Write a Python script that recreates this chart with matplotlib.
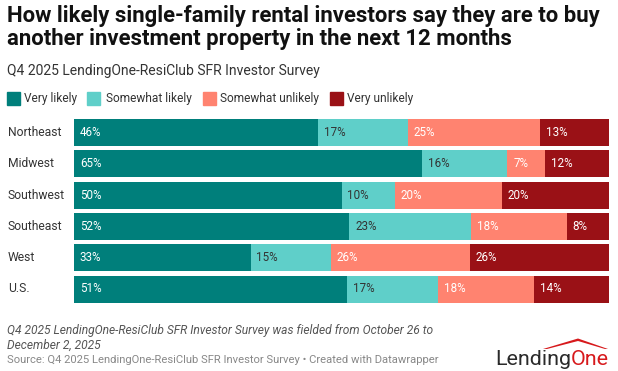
import matplotlib
matplotlib.use("Agg")
import matplotlib.pyplot as plt
from matplotlib.patches import Polygon
import numpy as np

# ---- data ----
regions = ["Northeast", "Midwest", "Southwest", "Southeast", "West", "U.S."]
series = ["Very likely", "Somewhat likely", "Somewhat unlikely", "Very unlikely"]
very_likely = [46, 65, 50, 52, 33, 51]
somewhat_likely = [17, 16, 10, 23, 15, 17]
somewhat_unlikely = [25, 7, 20, 18, 26, 18]
very_unlikely = [13, 12, 20, 8, 26, 14]

title_lines = ["How likely single-family rental investors say they are to buy",
               "another investment property in the next 12 months"]
subtitle = "Q4 2025 LendingOne-ResiClub SFR Investor Survey"
note_lines = ["Q4 2025 LendingOne-ResiClub SFR Investor Survey was fielded from October 26 to",
              "December 2, 2025"]
source = "Source: Q4 2025 LendingOne-ResiClub SFR Investor Survey \u2022 Created with Datawrapper"

colors = ["#007f7b", "#5fcfc9", "#ff8370", "#9a1116"]
label_colors = ["white", "#333333", "white", "white"]

W, H = 618, 371
plt.rcParams["font.family"] = ["Roboto", "DejaVu Sans"]
fig = plt.figure(figsize=(W / 100, H / 100), dpi=100)
renderer = fig.canvas.get_renderer()


def fx(x):
    return x / W


def fy(y):
    return 1 - y / H


def fit(t, target_w):
    w = t.get_window_extent(renderer).width
    t.set_fontsize(t.get_fontsize() * target_w / w)
    return t.get_fontsize()


# axes placement (pixels)
ax_left, ax_right = 74, 609
pitch = 31.3
c0 = 132.5
ax_top = c0 - 0.5 * pitch
ax_bot = c0 + 5.5 * pitch
ax = fig.add_axes([fx(ax_left), fy(ax_bot), (ax_right - ax_left) / W, (ax_bot - ax_top) / H])

data = np.array([very_likely, somewhat_likely, somewhat_unlikely, very_unlikely], dtype=float)
totals = data.sum(axis=0)
norm = data / totals * 100
y = np.arange(len(regions))
left = np.zeros(len(regions))
bar_h = 27 / pitch
for i, s in enumerate(series):
    ax.barh(y, norm[i], left=left, height=bar_h, color=colors[i], edgecolor="none")
    for j in range(len(regions)):
        ax.text(left[j] + 1.1, y[j], f"{int(data[i, j])}%", va="center", ha="left",
                color=label_colors[i], fontsize=8.4)
    left += norm[i]

ax.set_xlim(0, 100)
ax.set_ylim(len(regions) - 0.5, -0.5)
ax.axis("off")

cat_fs = None
for j, r in enumerate(regions):
    t = fig.text(fx(8), fy(c0 + j * pitch), r, ha="left", va="center", fontsize=9, color="#333333")
    if j == 0:
        cat_fs = fit(t, 54)
    else:
        t.set_fontsize(cat_fs)

# ---- title etc ----
t1 = fig.text(fx(7), fy(22), title_lines[0], fontsize=14.6, fontweight="bold",
              color="#111111", ha="left", va="baseline")
tfs = fit(t1, 590)
fig.text(fx(7), fy(45.5), title_lines[1], fontsize=tfs, fontweight="bold",
         color="#111111", ha="left", va="baseline")
st = fig.text(fx(7), fy(75), subtitle, fontsize=9.6, color="#333333", ha="left", va="baseline")
fit(st, 316)

# legend
sq_x = [7, 87, 203, 330]
txt_x = [24, 106, 220, 347]
leg_texts = []
for i, s in enumerate(series):
    fig.add_artist(plt.Rectangle((fx(sq_x[i]), fy(105)), 13 / W, 13 / H,
                                 transform=fig.transFigure, color=colors[i]))
    leg_texts.append(fig.text(fx(txt_x[i]), fy(98.5), s, fontsize=8.8, color="#333333",
                              ha="left", va="center"))
lfs = fit(leg_texts[2], 99)
for t in leg_texts:
    t.set_fontsize(lfs)

# footer
n1 = fig.text(fx(7), fy(334), note_lines[0], fontsize=8.7, style="italic",
              color="#555555", ha="left", va="baseline")
nfs = fit(n1, 431)
fig.text(fx(7), fy(349), note_lines[1], fontsize=nfs, style="italic",
         color="#555555", ha="left", va="baseline")
sr = fig.text(fx(7), fy(363), source, fontsize=7.9, color="#888888", ha="left", va="baseline")
fit(sr, 435)

# logo
lg1 = fig.text(fx(495), fy(365), "Lending", fontsize=13.5, color="#2a2a2a", ha="left", va="baseline")
lg2 = fig.text(fx(560), fy(365), "One", fontsize=13.5, color="#d7191c", ha="left", va="baseline")
w_total = lg1.get_window_extent(renderer).width + lg2.get_window_extent(renderer).width
scale = 114 / w_total
lg1.set_fontsize(13.5 * scale)
lg2.set_fontsize(13.5 * scale)
x_end = lg1.get_window_extent(renderer).x1
lg2.set_x(x_end / (fig.dpi * fig.get_figwidth()))
roof = Polygon([[fx(543), fy(349)], [fx(578), fy(338.5)], [fx(608), fy(349)],
                [fx(605), fy(349)], [fx(578), fy(341)], [fx(547), fy(349)]],
               closed=True, transform=fig.transFigure, color="#d7191c", lw=0)
fig.add_artist(roof)

fig.savefig("out.png", dpi=100, facecolor="white")
